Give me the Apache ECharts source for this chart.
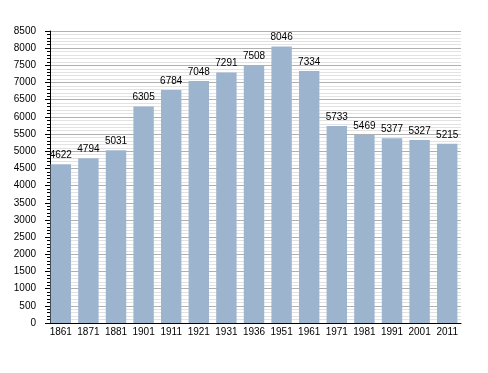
<!DOCTYPE html>
<html>
<head>
<meta charset="utf-8">
<script src="https://cdn.jsdelivr.net/npm/echarts@6/dist/echarts.min.js"></script>
<style>
html,body{margin:0;padding:0;background:#fff;}
#chart{width:488px;height:373px;}
</style>
</head>
<body>
<div id="chart"></div>
<script>
const years = ['1861','1871','1881','1901','1911','1921','1931','1936','1951','1961','1971','1981','1991','2001','2011'];
const population = [4622,4794,5031,6305,6784,7048,7291,7508,8046,7334,5733,5469,5377,5327,5215];
const yMin = 0;
const yMax = 8500;
const yStep = 500;

const chart = echarts.init(document.getElementById('chart'), null, {renderer:'canvas'});
chart.setOption({
  animation: false,
  backgroundColor: '#ffffff',
  textStyle: {fontFamily: 'Liberation Sans, Arial, sans-serif'},
  grid: {left: 47, right: 27, top: 31, bottom: 50, containLabel: false},
  xAxis: {
    type: 'category',
    data: years,
    boundaryGap: true,
    axisLine: {show: true, lineStyle: {color: '#000', width: 1}},
    axisTick: {show: false},
    axisLabel: {color: '#000', fontSize: 10, margin: 4, interval: 0, fontFamily: 'Liberation Sans, Arial, sans-serif'},
    splitLine: {show: false}
  },
  yAxis: {
    type: 'value',
    min: yMin,
    max: yMax,
    interval: yStep,
    offset: -3,
    axisLine: {show: true, lineStyle: {color: '#000', width: 1}},
    axisTick: {show: true, length: 5, lineStyle: {color: '#000'}},
    minorTick: {show: true, splitNumber: 5, length: 3, lineStyle: {color: '#000'}},
    axisLabel: {color: '#000', fontSize: 10, margin: 14, formatter: function (v) { return String(v); }, fontFamily: 'Liberation Sans, Arial, sans-serif'},
    splitLine: {show: true, lineStyle: {color: '#b0b0b0', width: 1}},
    minorSplitLine: {show: true, lineStyle: {color: '#e2e2e2', width: 1}}
  },
  series: [{
    type: 'bar',
    data: population,
    barWidth: '74%',
    itemStyle: {color: '#9db4cf'},
    label: {
      show: true,
      position: 'top',
      distance: 4,
      color: '#000',
      fontSize: 10,
      fontFamily: 'Liberation Sans, Arial, sans-serif'
    }
  }]
});
</script>
</body>
</html>
